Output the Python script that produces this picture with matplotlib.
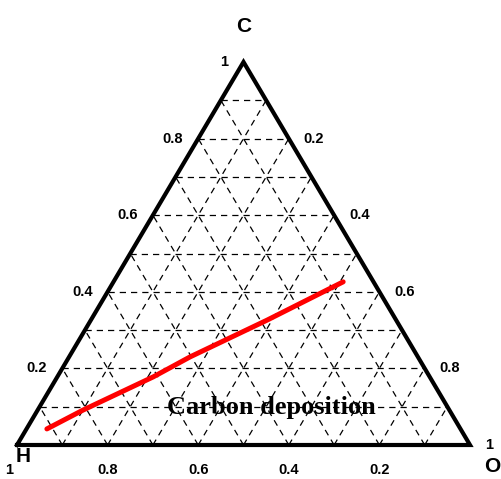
import numpy as np
import matplotlib.pyplot as plt

# ternary data: fractions of C (top), O (bottom right), H (bottom left)
grid_levels = [0.1, 0.2, 0.3, 0.4, 0.5, 0.6, 0.7, 0.8, 0.9]
tick_values = [0.2, 0.4, 0.6, 0.8, 1.0]
tick_labels = ['0.2', '0.4', '0.6', '0.8', '1']

# carbon deposition boundary
line_c = [0.042, 0.091, 0.178, 0.230, 0.326, 0.426]
line_o = [0.045, 0.100, 0.212, 0.267, 0.389, 0.507]


def tern(c, o):
    c = np.asarray(c, dtype=float)
    o = np.asarray(o, dtype=float)
    return o + c / 2, c


PX = 72 / 100  # points per pixel

fig = plt.figure(figsize=(5.02, 4.79), dpi=100)
ax = fig.add_axes([0, 0, 1, 1])
ax.set_xlim(-17 / 453, 485 / 453)
ax.set_ylim(-34 / 383, 445 / 383)
ax.axis('off')

dash = dict(color='black', lw=0.9, linestyle=(0, (5, 4)), zorder=1)
for g in grid_levels:
    # constant C
    ax.plot(*tern([g, g], [0, 1 - g]), **dash)
    # constant O
    ax.plot(*tern([0, 1 - g], [g, g]), **dash)
    # constant H
    ax.plot(*tern([0, 1 - g], [1 - g, 0]), **dash)

# triangle outline
ax.plot(*tern([0, 0, 1, 0], [0, 1, 0, 0]), color='black', lw=3, zorder=3,
        solid_joinstyle='miter')

# carbon deposition line
ax.plot(*tern(line_c, line_o), color='#ff0000', lw=3.6, zorder=4,
        solid_capstyle='round')

tick_font = dict(family='Liberation Sans', weight='bold', size=10.5, color='black')
for v, lab in zip(tick_values, tick_labels):
    # left edge: C fraction
    ax.annotate(lab, tern(v, 0), xytext=(-15 * PX, 0), textcoords='offset points',
                ha='right', va='center', **tick_font)
    # right edge: O fraction
    ax.annotate(lab, tern(1 - v, v), xytext=(15 * PX, 0), textcoords='offset points',
                ha='left', va='center', **tick_font)
    # bottom edge: H fraction
    ax.annotate(lab, tern(0, 1 - v), xytext=(-8 * PX if v == 1.0 else 0, -25 * PX),
                textcoords='offset points', ha='center', va='center', **tick_font)

vert_font = dict(family='Liberation Sans', weight='bold', size=15, color='black')
ax.annotate('C', tern(1, 0), xytext=(0, 35 * PX), textcoords='offset points',
            ha='center', va='center', **vert_font)
ax.annotate('H', tern(0, 0), xytext=(6 * PX, -12 * PX), textcoords='offset points',
            ha='center', va='center', **vert_font)
ax.annotate('O', tern(0, 1), xytext=(22 * PX, -22 * PX), textcoords='offset points',
            ha='center', va='center', **vert_font)

ax.text(*tern(0.097, 0.512), 'Carbon deposition', family='Liberation Serif',
        weight='bold', size=19, ha='center', va='center', color='black', zorder=5)

fig.savefig('out.png', dpi=100)
